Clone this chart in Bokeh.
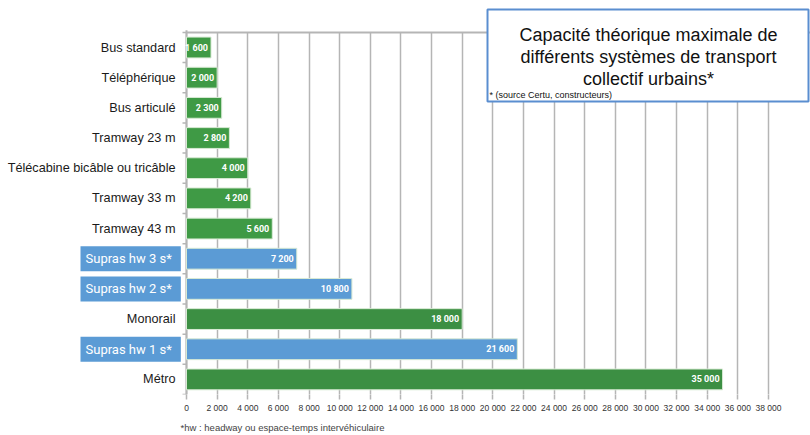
import math
from bokeh.plotting import figure
from bokeh.models import Range1d, FixedTicker, Label, BoxAnnotation, ColumnDataSource, LinearAxis
from bokeh.core.properties import value
from bokeh.embed import file_html
from bokeh.resources import INLINE

# ---- data ----
categories = [
    "Bus standard", "Téléphérique", "Bus articulé", "Tramway 23 m",
    "Télécabine bicâble ou tricâble", "Tramway 33 m", "Tramway 43 m",
    "Supras hw 3 s*", "Supras hw 2 s*", "Monorail", "Supras hw 1 s*", "Métro",
]
capacities = [1600, 2000, 2300, 2800, 4000, 4200, 5600, 7200, 10800, 18000, 21600, 35000]
capacity_labels = ["1 600", "2 000", "2 300", "2 800", "4 000", "4 200", "5 600",
                   "7 200", "10 800", "18 000", "21 600", "35 000"]
highlighted = ["Supras hw 3 s*", "Supras hw 2 s*", "Supras hw 1 s*"]
x_ticks = [0, 2000, 4000, 6000, 8000, 10000, 12000, 14000, 16000, 18000, 20000,
           22000, 24000, 26000, 28000, 30000, 32000, 34000, 36000, 38000]
x_tick_labels = ["0", "2 000", "4 000", "6 000", "8 000", "10 000", "12 000", "14 000",
                 "16 000", "18 000", "20 000", "22 000", "24 000", "26 000", "28 000",
                 "30 000", "32 000", "34 000", "36 000", "38 000"]
title_lines = ["Capacité théorique maximale de", "différents systèmes de transport",
               "collectif urbains*"]
source_note = "* (source Certu, constructeurs)"
footnote = "*hw : headway ou espace-temps intervéhiculaire"

# ---- styles / layout ----
GREEN = "#3f9a45"
GREEN_DARK = "#3c8f43"
BLUE = "#5b9bd5"
GRID = "#b5b5b5"

W, H = 810, 435
AX0 = 186          # canvas x of value 0
FB = 395           # canvas y of frame bottom
UNITS_PER_PX = 38000 / 582.0
ROW_PX = 30.25
FOOT_CX = 282      # canvas x of the footnote centre

n = len(categories)
ypos = [n - 1 - i for i in range(n)]
colors = []
for c in categories:
    if c in highlighted:
        colors.append(BLUE)
    elif c in ("Monorail", "Métro"):
        colors.append(GREEN_DARK)
    else:
        colors.append(GREEN)

src = ColumnDataSource(dict(y=ypos, x=capacities, label=capacity_labels, color=colors))
plain = [(y, c) for y, c in zip(ypos, categories) if c not in highlighted]
lab_src = ColumnDataSource(dict(y=[a for a, _ in plain], name=[b for _, b in plain]))

x_start = -AX0 * UNITS_PER_PX
x_end = (W - AX0) * UNITS_PER_PX
y_start = -0.5
y_end = -0.5 + FB / ROW_PX

p = figure(width=W, height=H, x_range=Range1d(x_start, x_end), y_range=Range1d(y_start, y_end),
           output_backend="svg", toolbar_location=None,
           min_border_left=0, min_border_right=0, min_border_top=0, min_border_bottom=H - FB)
p.outline_line_color = None
p.background_fill_color = "white"
p.border_fill_color = "white"
p.yaxis.visible = False

# category axis (line, boundary ticks, labels) drawn under the bars
p.segment(x0=0, y0=-0.5, x1=0, y1=n - 0.5 + 0.07, line_color=GRID, line_width=2)
p.segment(x0=0, y0=n - 0.5, x1=x_end, y1=n - 0.5, line_color=GRID, line_width=2)
p.ray(x=0, y=[k - 0.5 for k in range(n + 1)], length=4, length_units="screen",
      angle=math.pi, line_color=GRID, line_width=1.5)
p.text(x=0, y="y", text="name", source=lab_src, x_offset=-11, text_align="right",
       text_baseline="middle", text_color="#1a1a1a", text_font=value("Liberation Sans"),
       text_font_size="12.7px")

p.hbar(y="y", left=0, right="x", height=0.69, fill_color="color", line_color="#d8ead4",
       line_width=1, source=src)
p.text(x="x", y="y", text="label", source=src, x_offset=-3, text_align="right",
       text_baseline="middle", text_color="white", text_font=value("Roboto"),
       text_font_style="bold", text_font_size="9px")

# x axis
p.xaxis.ticker = FixedTicker(ticks=x_ticks)
p.xaxis.major_label_overrides = {t: l for t, l in zip(x_ticks, x_tick_labels)}
p.xaxis.axis_line_color = None
p.xaxis.major_tick_out = 5
p.xaxis.major_tick_in = 0
p.xaxis.major_tick_line_color = GRID
p.xaxis.major_tick_line_width = 1.5
p.xaxis.minor_tick_line_color = None
p.xaxis.major_label_text_font = "Liberation Sans"
p.xaxis.major_label_text_font_size = "8.5px"
p.xaxis.major_label_text_color = "#333333"
p.xaxis.major_label_standoff = 3

p.xgrid.grid_line_color = GRID
p.xgrid.grid_line_width = 1.5
try:
    p.xgrid.cross_bounds = (-0.5, n - 0.5)
except Exception:
    p.quad(left=0, right=x_end, bottom=n - 0.5 + 0.05, top=y_end, fill_color="white",
           line_color=None)
p.ygrid.grid_line_color = None

# footnote as a second, label-only axis below the value axis
foot_x = (FOOT_CX - AX0) * UNITS_PER_PX
foot_axis = LinearAxis(ticker=FixedTicker(ticks=[foot_x]),
                       major_label_overrides={foot_x: footnote},
                       axis_line_color=None, major_tick_line_color=None,
                       minor_tick_line_color=None, major_tick_out=0, major_tick_in=0,
                       major_label_standoff=6, major_label_text_font="Liberation Sans",
                       major_label_text_font_size="9.5px", major_label_text_color="#444444")
p.add_layout(foot_axis, "below")

def sy(py):
    return FB - py

# highlighted category labels
for y, c in zip(ypos, categories):
    if c in highlighted:
        p.add_layout(Label(x=80, y=y, x_units="screen", y_units="data", text=c,
                           text_align="left", text_baseline="middle", text_color="white",
                           text_font="Roboto", text_font_size="13px",
                           background_fill_color=BLUE,
                           padding=dict(left=5, right=9, top=5, bottom=5)))

# title box
p.add_layout(BoxAnnotation(left=487, right=808, top=sy(10), bottom=sy(102),
                           left_units="screen", right_units="screen",
                           top_units="screen", bottom_units="screen",
                           fill_color="white", fill_alpha=1.0,
                           line_color="#5a8ed0", line_alpha=1.0, line_width=2))
for i, t in enumerate(title_lines):
    p.add_layout(Label(x=648, y=sy(35 + 22 * i), x_units="screen", y_units="screen",
                       text=t, text_align="center", text_baseline="alphabetic",
                       text_font="Liberation Sans", text_font_size="18px", text_color="#111111"))
p.add_layout(Label(x=489, y=sy(95), x_units="screen", y_units="screen", text=source_note,
                   text_align="left", text_baseline="alphabetic", text_font="Liberation Sans",
                   text_font_size="9px", text_color="#111111"))

open("out.html", "w").write(file_html(p, INLINE))
